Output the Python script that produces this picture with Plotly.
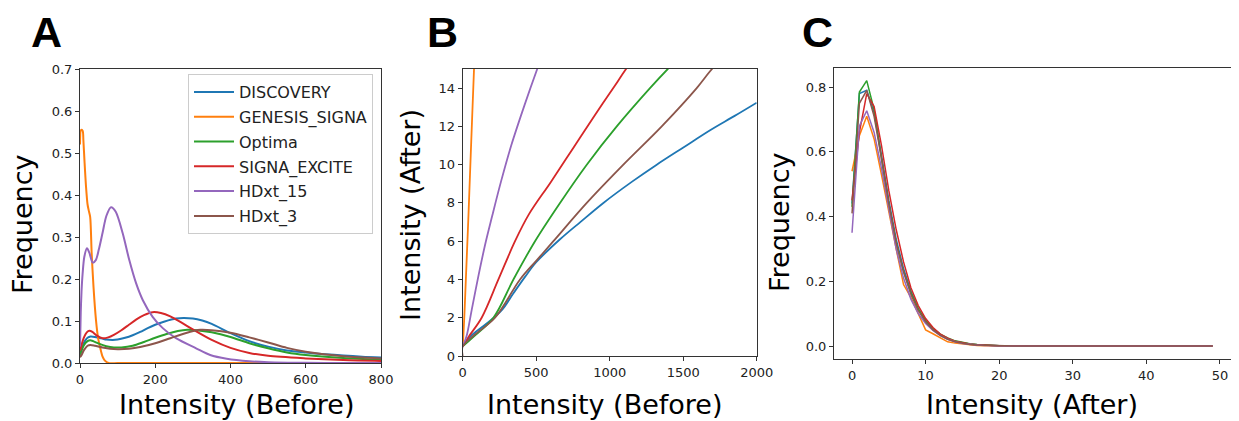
import plotly.graph_objects as go

# The page body has an 8px default margin, so the figure is drawn 8px in from the window's corner.
OFF = 8
W, H = 1239 - OFF, 421 - OFF

names = ["DISCOVERY", "GENESIS_SIGNA", "Optima", "SIGNA_EXCITE", "HDxt_15", "HDxt_3"]
colors = ["#1f77b4", "#ff7f0e", "#2ca02c", "#d62728", "#9467bd", "#8c564b"]

# ---------- Panel A: Frequency vs Intensity (Before) ----------
a_disc_x = [0, 5, 10, 15, 20, 28, 40, 50, 60, 70, 87, 100, 120, 140, 160, 180, 200, 225, 255, 275, 300, 325, 350, 400, 450, 500, 550, 600, 650, 700, 750, 800]
a_disc_y = [0.02, 0.035, 0.047, 0.055, 0.06, 0.063, 0.062, 0.06, 0.058, 0.056, 0.055, 0.056, 0.06, 0.066, 0.074, 0.083, 0.091, 0.099, 0.106, 0.107, 0.106, 0.101, 0.093, 0.071, 0.052, 0.039, 0.030, 0.025, 0.021, 0.018, 0.015, 0.013]

a_gen_x = [0, 3, 7, 9, 12, 16, 20, 23, 27, 31, 36, 42.5, 48, 53, 60, 65, 76, 100, 200, 400, 600, 800]
a_gen_y = [0.52, 0.555, 0.553, 0.53, 0.48, 0.42, 0.378, 0.364, 0.348, 0.262, 0.18, 0.102, 0.06, 0.039, 0.015, 0.007, 0.0, 0.0, 0.0, 0.0, 0.0, 0.0]

a_opt_x = [0, 10, 20, 27, 35, 50, 70, 90, 110, 140, 170, 200, 230, 260, 285, 310, 350, 400, 450, 500, 550, 600, 700, 800]
a_opt_y = [0.02, 0.042, 0.052, 0.054, 0.052, 0.046, 0.04, 0.037, 0.037, 0.041, 0.05, 0.06, 0.069, 0.076, 0.079, 0.078, 0.073, 0.062, 0.047, 0.035, 0.025, 0.019, 0.012, 0.008]

a_sig_x = [0, 10, 18, 25, 33, 45, 60, 75, 90, 110, 130, 150, 170, 193, 215, 240, 270, 300, 350, 400, 450, 500, 600, 700, 800]
a_sig_y = [0.03, 0.06, 0.073, 0.077, 0.074, 0.065, 0.059, 0.061, 0.067, 0.078, 0.091, 0.104, 0.114, 0.121, 0.119, 0.111, 0.096, 0.08, 0.055, 0.036, 0.024, 0.017, 0.011, 0.007, 0.005]

a_hd15_x = [0, 2, 4, 7, 11.5, 18.6, 25, 33.7, 42, 50, 60, 70, 82.4, 95, 113.5, 131, 149, 166.7, 193, 220, 255, 308.5, 346, 390, 450, 500, 600, 700, 800]
a_hd15_y = [0.039, 0.12, 0.17, 0.213, 0.253, 0.273, 0.262, 0.239, 0.245, 0.27, 0.31, 0.35, 0.371, 0.36, 0.309, 0.245, 0.19, 0.15, 0.11, 0.083, 0.059, 0.035, 0.019, 0.01, 0.004, 0.002, 0.0005, 0.0, 0.0]

a_hd3_x = [0, 1, 10, 20, 28, 40, 60, 80, 100, 130, 160, 200, 240, 280, 320, 350, 400, 450, 500, 550, 600, 700, 800]
a_hd3_y = [0.9, 0.015, 0.03, 0.041, 0.043, 0.041, 0.037, 0.034, 0.033, 0.034, 0.038, 0.047, 0.059, 0.071, 0.079, 0.078, 0.072, 0.061, 0.049, 0.036, 0.027, 0.016, 0.011]

a_xs = [a_disc_x, a_gen_x, a_opt_x, a_sig_x, a_hd15_x, a_hd3_x]
a_ys = [a_disc_y, a_gen_y, a_opt_y, a_sig_y, a_hd15_y, a_hd3_y]

# ---------- Panel B: Intensity (After) vs Intensity (Before) ----------
b_disc_x = [0, 50, 163, 266, 345, 425, 500, 662, 800, 957, 1150, 1320, 1501, 1683, 1850, 2000]
b_disc_y = [0.5, 1.0, 1.7, 2.4, 3.28, 4.15, 4.9, 6.1, 7.0, 8.0, 9.1, 10.0, 10.9, 11.8, 12.55, 13.24]

b_gen_x = [0, 5, 13, 22, 40, 58, 77, 90]
b_gen_y = [0.5, 1.1, 2.4, 4.1, 7.5, 11.2, 15.0, 17.6]

b_opt_x = [0, 73, 209, 345, 492, 662, 844, 1048, 1274, 1395, 1500]
b_opt_y = [0.5, 1.0, 2.0, 4.0, 6.0, 8.0, 10.0, 12.0, 14.0, 15.0, 15.8]

b_sig_x = [0, 40, 129, 243, 356, 450, 600, 750, 900, 1050, 1111, 1200]
b_sig_y = [0.5, 1.0, 2.0, 4.0, 6.0, 7.4, 9.1, 10.85, 12.6, 14.3, 15.0, 16.0]

b_hd15_x = [0, 25, 61, 106, 152, 200, 260, 330, 420, 507, 560]
b_hd15_y = [0.5, 1.0, 2.4, 4.15, 5.8, 7.3, 9.1, 11.0, 13.1, 15.0, 16.1]

b_hd3_x = [0, 0, 80, 220, 390, 503, 617, 844, 1093, 1354, 1592, 1696, 1800]
b_hd3_y = [0.0, 0.5, 1.1, 2.0, 4.0, 5.0, 6.0, 8.0, 10.0, 12.0, 14.0, 15.0, 15.8]

b_xs = [b_disc_x, b_gen_x, b_opt_x, b_sig_x, b_hd15_x, b_hd3_x]
b_ys = [b_disc_y, b_gen_y, b_opt_y, b_sig_y, b_hd15_y, b_hd3_y]

# ---------- Panel C: Frequency vs Intensity (After) ----------
c_x = list(range(50))
c_disc = [0.44, 0.78, 0.79, 0.72, 0.59, 0.45, 0.33, 0.24, 0.17, 0.115, 0.078, 0.052, 0.034, 0.022, 0.014, 0.009, 0.006, 0.004, 0.0025, 0.0016, 0.001, 0.0006, 0.0004, 0.0002, 0.0001,
          0, 0, 0, 0, 0, 0, 0, 0, 0, 0, 0, 0, 0, 0, 0, 0, 0, 0, 0, 0, 0, 0, 0, 0, 0]
c_gen = [0.54, 0.65, 0.71, 0.64, 0.53, 0.41, 0.30, 0.19, 0.15, 0.10, 0.05, 0.038, 0.025, 0.013, 0.009, 0.006, 0.004, 0.002, 0.001, 0.0005, 0.0002, 0.0001, 0, 0, 0,
         0, 0, 0, 0, 0, 0, 0, 0, 0, 0, 0, 0, 0, 0, 0, 0, 0, 0, 0, 0, 0, 0, 0, 0, 0]
c_opt = [0.43, 0.785, 0.82, 0.73, 0.58, 0.44, 0.32, 0.23, 0.165, 0.115, 0.08, 0.055, 0.037, 0.025, 0.016, 0.011, 0.007, 0.0045, 0.003, 0.002, 0.0012, 0.0008, 0.0005, 0.0003, 0.0001,
         0, 0, 0, 0, 0, 0, 0, 0, 0, 0, 0, 0, 0, 0, 0, 0, 0, 0, 0, 0, 0, 0, 0, 0, 0]
c_sig = [0.45, 0.66, 0.78, 0.74, 0.62, 0.48, 0.36, 0.26, 0.18, 0.125, 0.085, 0.057, 0.037, 0.024, 0.015, 0.01, 0.006, 0.004, 0.0025, 0.0015, 0.001, 0.0006, 0.0003, 0.0001, 0,
         0, 0, 0, 0, 0, 0, 0, 0, 0, 0, 0, 0, 0, 0, 0, 0, 0, 0, 0, 0, 0, 0, 0, 0, 0]
c_hd15 = [0.35, 0.68, 0.727, 0.66, 0.55, 0.42, 0.30, 0.21, 0.145, 0.10, 0.07, 0.048, 0.032, 0.021, 0.013, 0.008, 0.005, 0.003, 0.002, 0.001, 0.0006, 0.0003, 0.0001, 0, 0,
          0, 0, 0, 0, 0, 0, 0, 0, 0, 0, 0, 0, 0, 0, 0, 0, 0, 0, 0, 0, 0, 0, 0, 0, 0]
c_hd3 = [0.41, 0.75, 0.79, 0.71, 0.58, 0.44, 0.32, 0.23, 0.16, 0.11, 0.075, 0.05, 0.033, 0.021, 0.013, 0.008, 0.005, 0.003, 0.002, 0.001, 0.0006, 0.0003, 0.0001, 0, 0,
         0, 0, 0, 0, 0, 0, 0, 0, 0, 0, 0, 0, 0, 0, 0, 0, 0, 0, 0, 0, 0, 0, 0, 0, 0]
c_ys = [c_disc, c_gen, c_opt, c_sig, c_hd15, c_hd3]

# tick labels
a_xticks = [0, 200, 400, 600, 800]
a_yticks = [0.0, 0.1, 0.2, 0.3, 0.4, 0.5, 0.6, 0.7]
b_xticks = [0, 500, 1000, 1500, 2000]
b_yticks = [0, 2, 4, 6, 8, 10, 12, 14]
c_xticks = [0, 10, 20, 30, 40, 50]
c_yticks = [0.0, 0.2, 0.4, 0.6, 0.8]

fig = go.Figure()

for i in range(6):
    fig.add_trace(go.Scatter(x=a_xs[i], y=a_ys[i], mode="lines", name=names[i],
                             line=dict(color=colors[i], width=2, shape="spline", smoothing=0.8),
                             xaxis="x", yaxis="y", legendgroup=names[i], showlegend=True))
for i in range(6):
    fig.add_trace(go.Scatter(x=b_xs[i], y=b_ys[i], mode="lines", name=names[i],
                             line=dict(color=colors[i], width=1.8, shape="spline", smoothing=1.0),
                             xaxis="x2", yaxis="y2", showlegend=False))
for i in range(6):
    fig.add_trace(go.Scatter(x=c_x, y=c_ys[i], mode="lines", name=names[i],
                             line=dict(color=colors[i], width=1.5),
                             xaxis="x3", yaxis="y3", showlegend=False))

# convert window pixel positions to paper fractions
def px_x(p):
    return (p - OFF) / W

def px_y(p):
    return 1 - (p - OFF) / H

tickfont = dict(family="DejaVu Sans", size=13, color="#222")
axcommon = dict(showgrid=False, zeroline=False, showline=True, mirror=True,
                linecolor="#333", linewidth=1, ticks="outside", ticklen=4,
                tickcolor="#333", tickwidth=1, tickfont=tickfont, automargin=False)

fig.update_layout(
    width=W, height=H,
    margin=dict(l=0, r=0, t=0, b=0, pad=0, autoexpand=False),
    paper_bgcolor="white", plot_bgcolor="white",
    xaxis=dict(domain=[px_x(80), px_x(381)], range=[0, 800], tickvals=a_xticks,
               anchor="y", **axcommon),
    yaxis=dict(domain=[px_y(363), px_y(69)], range=[0, 0.7], tickvals=a_yticks,
               tickformat=".1f", anchor="x", **axcommon),
    xaxis2=dict(domain=[px_x(462.7), px_x(756.7)], range=[0, 2000], tickvals=b_xticks,
                anchor="y2", **axcommon),
    yaxis2=dict(domain=[px_y(356), px_y(69)], range=[0, 15], tickvals=b_yticks,
                anchor="x2", **axcommon),
    xaxis3=dict(domain=[px_x(834), px_x(1231.7)], range=[-2.45, 51.6], tickvals=c_xticks,
                anchor="y3", **axcommon),
    yaxis3=dict(domain=[px_y(359.3), px_y(67.7)], range=[-0.041, 0.86], tickvals=c_yticks,
                tickformat=".1f", anchor="x3", **axcommon),
    legend=dict(x=px_x(373), y=px_y(74), xanchor="right", yanchor="top",
                bgcolor="white", bordercolor="#cccccc", borderwidth=1,
                font=dict(family="DejaVu Sans", size=16, color="#222"),
                tracegroupgap=1, itemwidth=40),
    showlegend=True,
)

annotations = []
# panel letters
for letter, lx in [("A", 29), ("B", 425), ("C", 800)]:
    annotations.append(dict(text="<b>" + letter + "</b>", x=px_x(lx), y=px_y(32.4), xref="paper", yref="paper",
                            xanchor="left", yanchor="middle", showarrow=False,
                            font=dict(family="Liberation Sans", size=43, color="black")))
# axis titles
title_font = dict(family="DejaVu Sans", size=27, color="black")
for txt, cx, cy in [("Intensity (Before)", 236, 404), ("Intensity (Before)", 604, 404),
                    ("Intensity (After)", 1032, 404)]:
    annotations.append(dict(text=txt, x=px_x(cx), y=px_y(cy), xref="paper", yref="paper",
                            xanchor="center", yanchor="middle", showarrow=False, font=title_font))
for txt, cx, cy in [("Frequency", 22, 224), ("Intensity (After)", 410, 215), ("Frequency", 779, 222)]:
    annotations.append(dict(text=txt, x=px_x(cx), y=px_y(cy), xref="paper", yref="paper",
                            xanchor="center", yanchor="middle", showarrow=False,
                            textangle=-90, font=title_font))
fig.update_layout(annotations=annotations)

fig.write_html("out.html")
